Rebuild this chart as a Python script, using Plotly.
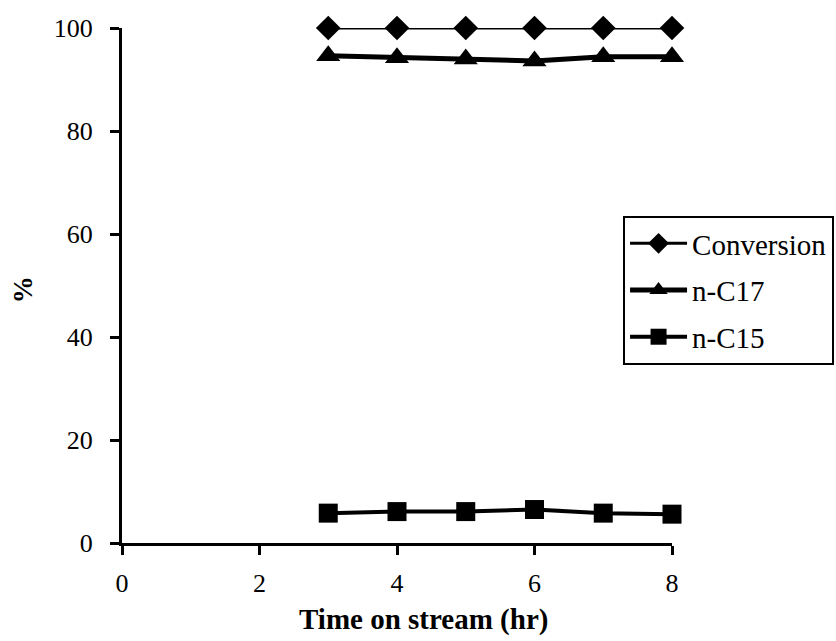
import plotly.graph_objects as go

time_hr = [3, 4, 5, 6, 7, 8]
conversion = [100, 100, 100, 100, 100, 100]
n_c17 = [94.6, 94.2, 94.0, 93.6, 94.4, 94.4]
n_c15 = [5.8, 6.1, 6.1, 6.5, 5.8, 5.6]

x_ticks = [0, 2, 4, 6, 8]
y_ticks = [0, 20, 40, 60, 80, 100]
x_title = "Time on stream (hr)"
y_title = "%"

FONT = "Liberation Serif"

fig = go.Figure()
series = [
    ("Conversion", conversion, "diamond", 19, 3),
    ("n-C17", n_c17, "triangle-up", 21, 5),
    ("n-C15", n_c15, "square", 19, 4),
]
for name, vals, sym, sz, lw in series:
    fig.add_trace(go.Scatter(
        x=time_hr, y=vals, name=name, mode="lines+markers",
        line=dict(color="black", width=lw),
        marker=dict(symbol=sym, size=sz, color="black"),
        legendgroup=name, cliponaxis=False,
    ))

fig.add_annotation(
    text="<b>" + x_title + "</b>", xref="paper", yref="paper",
    x=0.549, y=-0.1495, xanchor="center", yanchor="middle",
    showarrow=False, font=dict(family=FONT, size=29, color="black"),
)
fig.add_annotation(
    text="<b>" + y_title + "</b>", xref="paper", yref="paper",
    x=-0.18, y=0.491, xanchor="center", yanchor="middle", textangle=-90,
    showarrow=False, font=dict(family=FONT, size=27, color="black"),
)

fig.update_layout(
    width=836, height=641,
    margin=dict(l=122, r=164, t=28, b=98, autoexpand=False),
    paper_bgcolor="white", plot_bgcolor="white",
    font=dict(family=FONT, size=26, color="black"),
    showlegend=True,
    legend=dict(
        x=0.911, y=0.635, xanchor="left", yanchor="top",
        bordercolor="black", borderwidth=2, bgcolor="white",
        font=dict(family=FONT, size=29, color="black"),
        traceorder="grouped", tracegroupgap=6, itemwidth=57,
    ),
    xaxis=dict(
        range=[0, 8], tickvals=x_ticks, ticktext=[str(v) for v in x_ticks],
        showline=True, linecolor="black", linewidth=3,
        ticks="outside", ticklen=9, tickwidth=3, tickcolor="black",
        showgrid=False, zeroline=False, automargin=False,
        tickfont=dict(family=FONT, size=26), ticklabelstandoff=6,
    ),
    yaxis=dict(
        range=[0, 100], tickvals=y_ticks, ticktext=[str(v) for v in y_ticks],
        showline=True, linecolor="black", linewidth=3,
        ticks="outside", ticklen=9, tickwidth=3, tickcolor="black",
        showgrid=False, zeroline=False, automargin=False,
        tickfont=dict(family=FONT, size=26), ticklabelstandoff=12,
    ),
)

fig.write_html("out.html")
